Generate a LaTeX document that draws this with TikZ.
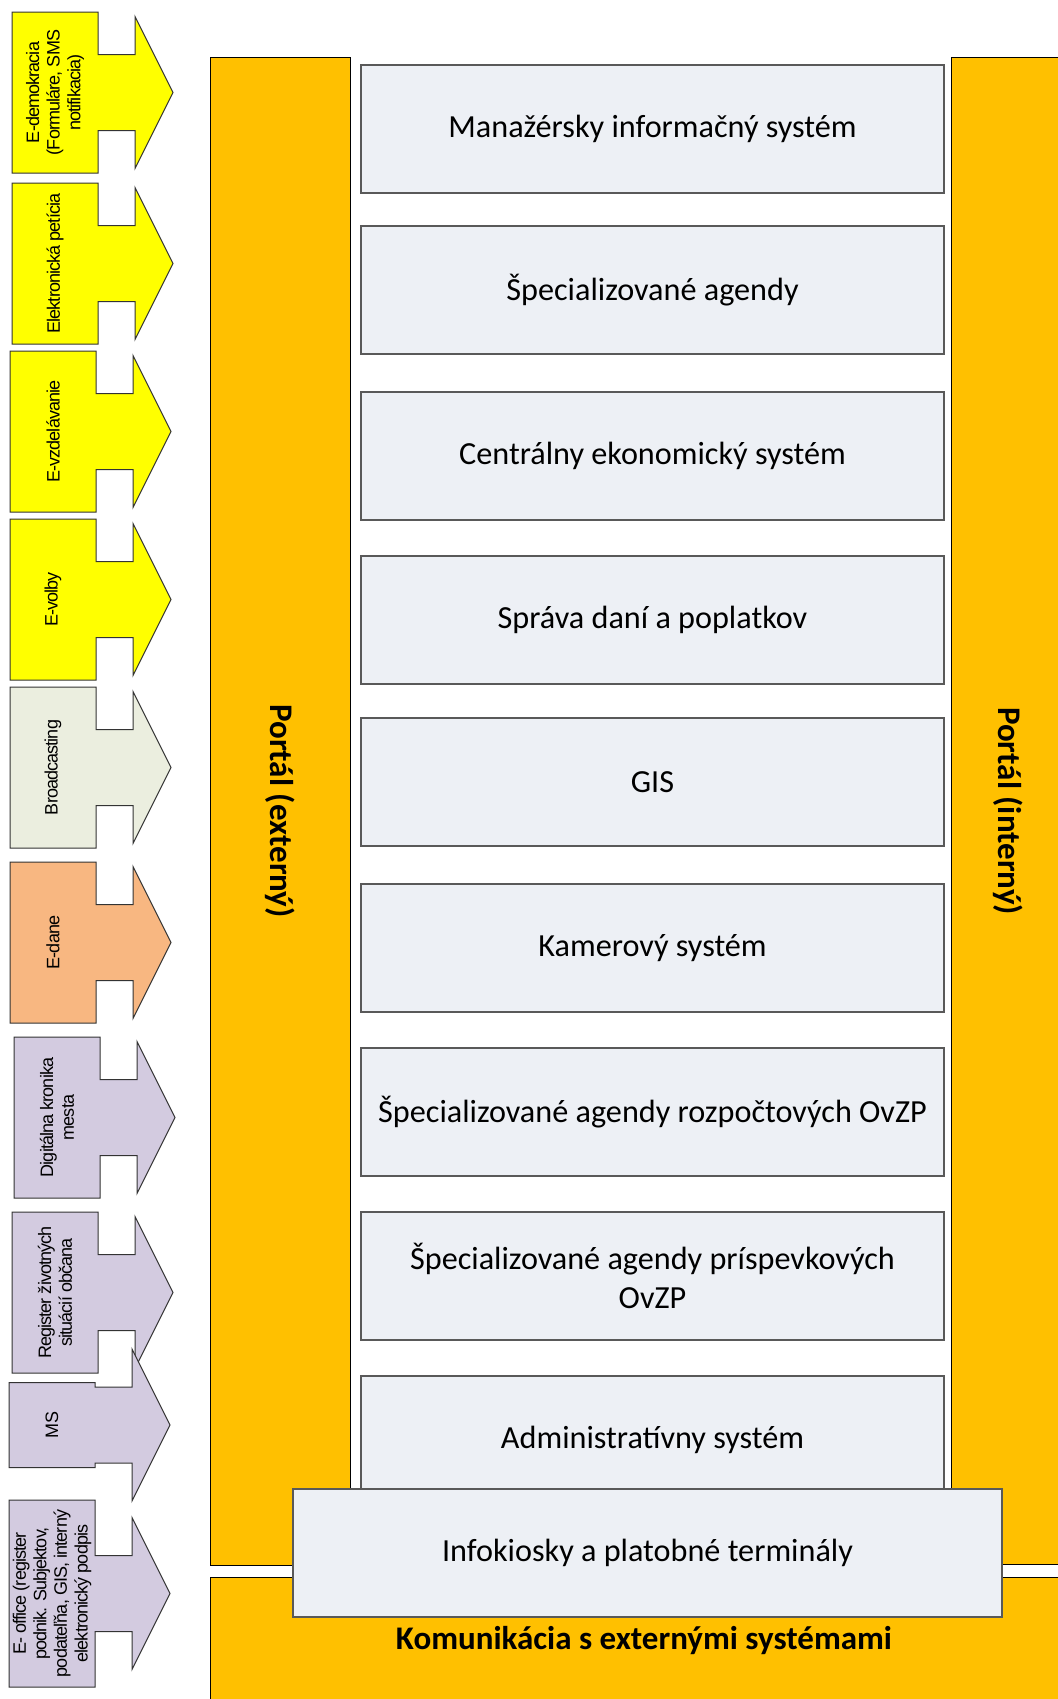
\documentclass[tikz,border=0pt]{standalone}
\usepackage{fontspec}
\setmainfont{Carlito}
\newfontfamily\arrowfont{Liberation Sans}[LetterSpace=-5]
\usepackage{tikz}
\usetikzlibrary{calc}
\definecolor{portalorange}{HTML}{FFC000}
\definecolor{boxgray}{HTML}{EDF0F5}
\definecolor{eyellow}{HTML}{FFFF00}
\definecolor{bcgreen}{HTML}{EBEEDF}
\definecolor{taxpeach}{HTML}{F8B781}
\definecolor{citylilac}{HTML}{D3CBE0}
\tikzset{
  sysbox/.style={draw=black!65, line width=0.6pt, fill=boxgray, minimum width=291.5pt,
    minimum height=64pt, inner sep=0pt, align=center, font=\fontsize{16.1}{19.5}\selectfont},
  bar/.style={draw=black, line width=0.5pt, fill=portalorange},
  bartext/.style={font=\bfseries\fontsize{16.5}{19.5}\selectfont, inner sep=0pt},
  arrowline/.style={draw=black!80, line width=0.5pt},
  arrowtext/.style={font=\arrowfont\fontsize{9}{10.3}\selectfont, align=center, inner sep=0pt},
}
% #1 left x, #2 middle y, #3 half height of box, #4 fill, #5 name, #6 text
\newcommand{\feedarrow}[6]{%
  \filldraw[arrowline, fill=#4] (#1,#2-#3) -- (#1+86,#2-#3) -- (#1+86,#2-38) -- (#1+123,#2-38)
    -- (#1+123,#2-76) -- (#1+161,#2) -- (#1+123,#2+76) -- (#1+123,#2+38) -- (#1+86,#2+38)
    -- (#1+86,#2+#3) -- (#1,#2+#3) -- cycle;
  \node[arrowtext, rotate=90] (#5) at (#1+43,#2) {#6};
}

\begin{document}
\begin{tikzpicture}[x=0.5pt, y=-0.5pt]
      \useasboundingbox (0,0) rectangle (1058,1699);
      \clip (0,0) rectangle (1058,1699);
      % portal bars and bottom bar
      \filldraw[bar] (210,57) rectangle (350,1565);
      \filldraw[bar] (951,57) rectangle (1065,1564);
      \filldraw[bar] (210,1577) rectangle (1078,1703);
      \node[bartext, rotate=-90] (extportal) at (280,811) {Portál (externý)};
      \node[bartext, rotate=-90] (intportal) at (1008,811) {Portál (interný)};
      \node[bartext] (extcomm) at (644,1640) {Komunikácia s externými systémami};
      % systems
      \node[sysbox] (mis)   at (652.5,129)  {Manažérsky informačný systém};
      \node[sysbox] (agend) at (652.5,290)  {Špecializované agendy};
      \node[sysbox] (ces)   at (652.5,456)  {Centrálny ekonomický systém};
      \node[sysbox] (taxes) at (652.5,620)  {Správa daní a poplatkov};
      \node[sysbox] (gis)   at (652.5,782)  {GIS};
      \node[sysbox] (cam)   at (652.5,948)  {Kamerový systém};
      \node[sysbox] (budg)  at (652.5,1112) {Špecializované agendy rozpočtových OvZP};
      \node[sysbox] (contr) at (652.5,1276) {Špecializované agendy príspevkových\\OvZP};
      \node[sysbox] (admin) at (652.5,1440) {Administratívny systém};
      \node[sysbox, minimum width=354.5pt] (kiosk) at (647.5,1553) {Infokiosky a platobné terminály};
      % services on the left
      \feedarrow{12}{92.5}{80.5}{eyellow}{edem}{E-demokracia\\(Formuláre, SMS\\notifikacia)}
      \feedarrow{12}{263.5}{80.5}{eyellow}{petit}{Elektronická petícia}
      \feedarrow{10}{431.5}{80.5}{eyellow}{edu}{E-vzdelávanie}
      \feedarrow{10}{599.5}{80.5}{eyellow}{vote}{E-volby}
      \feedarrow{10}{767.5}{80.5}{bcgreen}{bcast}{Broadcasting}
      \feedarrow{10}{942.5}{80.5}{taxpeach}{etax}{E-dane}
      \feedarrow{14}{1117.5}{80.5}{citylilac}{chron}{Digitálna kronika\\mesta}
      \feedarrow{12}{1292.5}{80.5}{citylilac}{lifesit}{Register životných\\situácií občana}
      \feedarrow{9}{1425}{42.5}{citylilac}{ms}{MS}
      \feedarrow{9}{1593.5}{93.5}{citylilac}{eoffice}{E- office (register\\podnik. Subjektov,\\podateľňa, GIS, interný\\elektronický podpis}
\end{tikzpicture}
\end{document}
